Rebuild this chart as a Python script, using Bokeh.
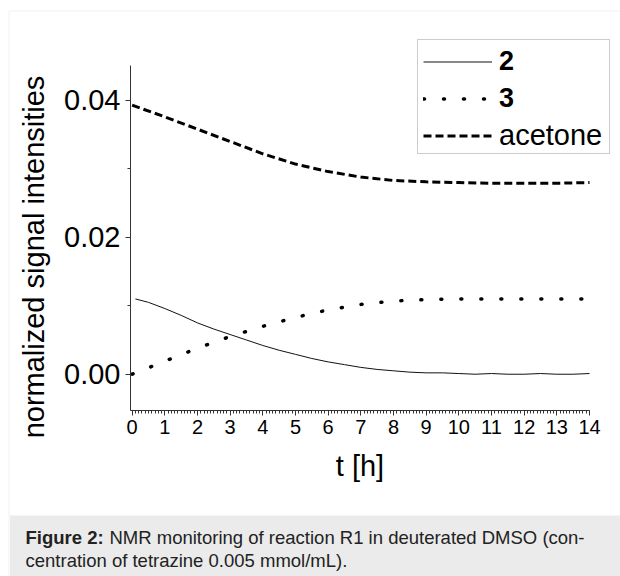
import math
from bokeh.plotting import figure
from bokeh.models import (Range1d, FixedTicker, PrintfTickFormatter, Legend, LegendItem,
                          BoxAnnotation, Label)
from bokeh.embed import file_html
from bokeh.resources import INLINE

# ---------------- data ----------------
t_2 = [0.1, 0.5, 1.0, 1.5, 2.0, 2.5, 3.0, 3.5, 4.0, 4.5, 5.0, 5.5, 6.0, 6.5, 7.0, 7.5,
       8.0, 8.5, 9.0, 9.5, 10.0, 10.5, 11.0, 11.5, 12.0, 12.5, 13.0, 13.5, 14.0]
sig_2 = [0.0110, 0.0105, 0.0096, 0.0086, 0.0075, 0.0066, 0.0058, 0.0050, 0.0042, 0.0035,
         0.0029, 0.0023, 0.0018, 0.0014, 0.0010, 0.0007, 0.0005, 0.0003, 0.0002, 0.0002,
         0.0001, 0.0000, 0.0001, 0.0000, 0.0000, 0.0001, 0.0000, 0.0000, 0.0001]

t_3 = [0, 1, 2, 3, 4, 5, 6, 7, 8, 9, 10, 11, 12, 13, 14]
sig_3 = [0.0000, 0.0019, 0.0038, 0.0055, 0.0070, 0.0083, 0.0094, 0.0102, 0.0107, 0.0109,
         0.0110, 0.0110, 0.0110, 0.0110, 0.0110]

t_acetone = [0, 1, 2, 3, 4, 5, 6, 7, 8, 9, 10, 11, 12, 13, 14]
sig_acetone = [0.0393, 0.0376, 0.0358, 0.0340, 0.0322, 0.0307, 0.0296, 0.0288, 0.0283,
               0.0281, 0.0280, 0.0279, 0.0279, 0.0279, 0.0280]

x_ticks = list(range(0, 15))
y_ticks = [0.0, 0.02, 0.04]
y_minor = [0.01, 0.03]
x_bounds = (-0.05, 14.0)
y_bounds = (-0.0053, 0.0451)

y_label = "normalized signal intensities"
x_label = "t [h]"
caption_bold = "Figure 2:"
caption_line1 = "NMR monitoring of reaction R1 in deuterated DMSO (con-"
caption_line2 = "centration of tetrazine 0.005 mmol/mL)."

# ---------------- layout ----------------
W, H = 620, 576
AX_L, AX_R, AX_T, AX_B = 130, 589, 65, 410   # axes box (canvas px, top-left origin)
FONT = "Liberation Sans"

# the plotting frame covers the whole canvas; axes are drawn at fixed locations
kx = (AX_R - AX_L) / (x_bounds[1] - x_bounds[0])
ky = (AX_B - AX_T) / (y_bounds[1] - y_bounds[0])
x_range = Range1d(x_bounds[0] - AX_L / kx, x_bounds[1] + (W - AX_R) / kx)
y_range = Range1d(y_bounds[0] - (H - AX_B) / ky, y_bounds[1] + AX_T / ky)

p = figure(width=W, height=H, output_backend="svg", toolbar_location=None,
           x_range=x_range, y_range=y_range,
           min_border_left=0, min_border_right=0, min_border_top=0, min_border_bottom=0)
p.outline_line_color = None
p.grid.visible = False
p.background_fill_color = "white"
p.border_fill_color = "white"

# helpers: canvas (top-left origin) -> screen units (frame = canvas, y up)
def sx(x):
    return x

def sy(y):
    return H - y

# page frame and caption band (drawn first, under everything)
frame_box = BoxAnnotation(left=sx(8.5), right=sx(660), top=sy(10.5), bottom=sy(640),
                          left_units="screen", right_units="screen",
                          top_units="screen", bottom_units="screen",
                          fill_alpha=0, line_color="#e2e2e2", line_width=1.5, level="underlay")
p.add_layout(frame_box)
caption_box = BoxAnnotation(left=sx(9.5), right=sx(660), top=sy(515), bottom=sy(640),
                            left_units="screen", right_units="screen",
                            top_units="screen", bottom_units="screen",
                            fill_color="#ebebeb", fill_alpha=1, line_alpha=0, level="underlay")
p.add_layout(caption_box)

# axes
xa = p.xaxis[0]
xa.fixed_location = y_bounds[0]
xa.bounds = x_bounds
xa.ticker = FixedTicker(ticks=x_ticks, minor_ticks=[i / 10 for i in range(0, 141)])
xa.axis_label = x_label
xa.axis_label_text_font = FONT
xa.axis_label_text_font_size = "29px"
xa.axis_label_text_font_style = "normal"
xa.axis_label_text_color = "black"
xa.axis_label_standoff = 13
xa.major_label_text_font = FONT
xa.major_label_text_font_size = "20px"
xa.major_label_text_color = "black"
xa.major_label_standoff = 4
xa.major_tick_out = 5
xa.major_tick_in = 0
xa.minor_tick_out = 3
xa.minor_tick_in = 0

ya = p.yaxis[0]
ya.fixed_location = x_bounds[0]
ya.bounds = y_bounds
ya.ticker = FixedTicker(ticks=y_ticks, minor_ticks=y_minor)
ya.formatter = PrintfTickFormatter(format="%.2f")
ya.major_label_text_font = FONT
ya.major_label_text_font_size = "29px"
ya.major_label_text_color = "black"
ya.major_label_standoff = 5
ya.major_tick_out = 5
ya.major_tick_in = 0
ya.minor_tick_out = 3
ya.minor_tick_in = 0

for ax in (xa, ya):
    ax.axis_line_color = "#333333"
    ax.major_tick_line_color = "#333333"
    ax.minor_tick_line_color = "#333333"

p.add_layout(Label(x=sx(33), y=sy(256.5), x_units="screen", y_units="screen",
                   text=y_label, angle=math.pi / 2, text_font=FONT, text_font_size="29px",
                   text_color="black", text_align="center", text_baseline="alphabetic"))

# curves
r2 = p.line(t_2, sig_2, line_color="#111111", line_width=1)
r3 = p.line(t_3, sig_3, line_color="black", line_width=3.5, line_dash="1 19", line_cap="round")
ra = p.line(t_acetone, sig_acetone, line_color="black", line_width=3, line_dash="8 4")

# legend (two legends so that "2" and "3" can be bold, one shared box)
ROW = 37
leg_a = Legend(items=[LegendItem(label="2", renderers=[r2]),
                      LegendItem(label="3", renderers=[r3])],
               location=(sx(423), sy(42.5 + 2 * ROW)))
leg_b = Legend(items=[LegendItem(label="acetone", renderers=[ra])],
               location=(sx(423), sy(42.5 + 3 * ROW)))
for lg, style, size in ((leg_a, "bold", "27px"), (leg_b, "normal", "29px")):
    lg.label_text_font = FONT
    lg.label_text_font_size = size
    lg.label_text_font_style = style
    lg.label_text_color = "black"
    lg.glyph_width = 69
    lg.glyph_height = ROW
    lg.label_height = ROW
    lg.label_standoff = 7
    lg.spacing = 0
    lg.padding = 0
    lg.margin = 0
    lg.border_line_alpha = 0
    lg.background_fill_alpha = 0
    p.add_layout(lg, "center")

legend_box = BoxAnnotation(left=sx(417), right=sx(609), top=sy(39), bottom=sy(153),
                           left_units="screen", right_units="screen",
                           top_units="screen", bottom_units="screen",
                           fill_alpha=0, line_color="#555555", line_width=1)
p.add_layout(legend_box)

def cap(text, x, y, style="normal"):
    p.add_layout(Label(x=sx(x), y=sy(y), x_units="screen", y_units="screen", text=text,
                       text_font=FONT, text_font_size="18.5px", text_font_style=style,
                       text_color="#222222", text_baseline="alphabetic", text_align="left"))

cap(caption_bold, 25, 537, "bold")
cap(caption_line1, 109, 537)
cap(caption_line2, 25, 560)

open("out.html", "w").write(file_html(p, INLINE))
